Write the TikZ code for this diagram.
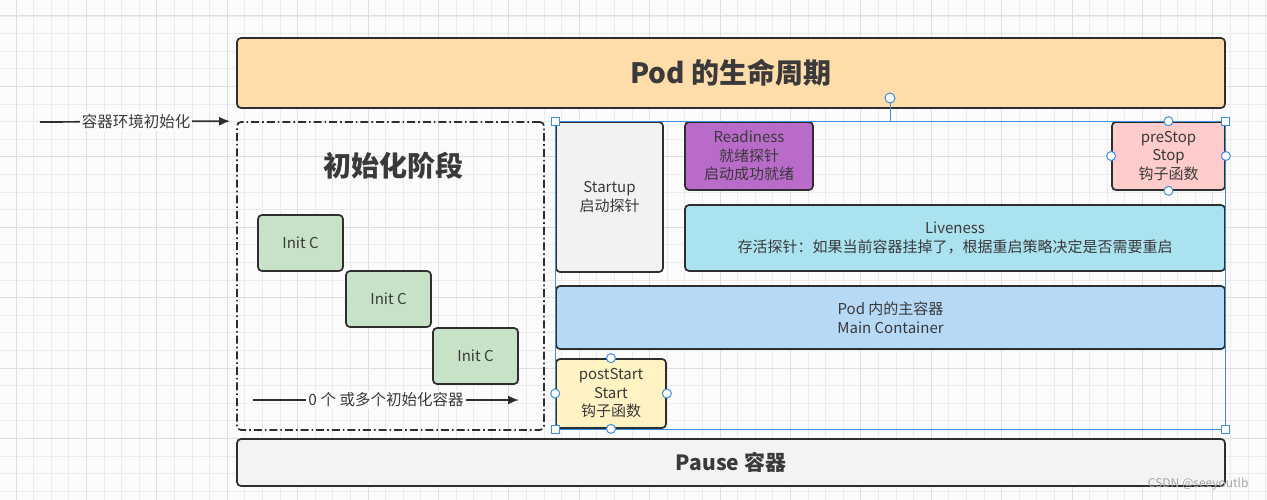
\documentclass[tikz,border=0pt]{standalone}
\usepackage{fontspec}
\setmainfont{Noto Sans CJK SC}
\usetikzlibrary{arrows.meta}

\definecolor{canvas}{HTML}{FBFBFB}
\definecolor{gridminor}{HTML}{EBEBEB}
\definecolor{gridmajor}{HTML}{DEDEDE}
\definecolor{edge}{HTML}{2E2E2E}
\definecolor{txt}{HTML}{3A3A3A}
\definecolor{podfill}{HTML}{FFDDAA}
\definecolor{initfill}{HTML}{C8E2C8}
\definecolor{startfill}{HTML}{F2F2F2}
\definecolor{readyfill}{HTML}{B96BC9}
\definecolor{stopfill}{HTML}{FFCCCC}
\definecolor{livefill}{HTML}{ABE2EF}
\definecolor{mainfill}{HTML}{B6D9F6}
\definecolor{postfill}{HTML}{FFF3C4}
\definecolor{pausefill}{HTML}{F3F3F3}
\definecolor{selblue}{HTML}{3D8EDF}

\tikzset{
  box/.style={draw=edge, line width=1.7pt, rounded corners=4pt, align=center,
    inner sep=0pt, text=txt, font=\fontsize{15}{18.5}\selectfont},
  bigtitle/.style={text=txt, font=\fontsize{28}{32}\selectfont\bfseries},
  flow/.style={draw=edge, line width=1.7pt, -{Latex[length=11pt,width=9pt]}},
  flowlabel/.style={fill=canvas, inner sep=2pt, text=txt, font=\fontsize{15.5}{18}\selectfont},
  selline/.style={draw=selblue, line width=1pt},
  selcorner/.style={draw=selblue, fill=white, line width=1pt},
}

\begin{document}
\begin{tikzpicture}[x=1pt,y=-1pt]
  \useasboundingbox[fill=canvas] (0,0) rectangle (1267,500);

  % grid
  \foreach \i in {0,...,71}
    \draw[gridminor, line width=0.8pt] (16+17.6*\i,0) -- (16+17.6*\i,500);
  \foreach \i in {0,...,28}
    \draw[gridminor, line width=0.8pt] (0,16+17.6*\i) -- (1267,16+17.6*\i);
  \foreach \i in {0,...,17}
    \draw[gridmajor, line width=1pt] (16+70.4*\i,0) -- (16+70.4*\i,500);
  \foreach \i in {0,...,6}
    \draw[gridmajor, line width=1pt] (0,16+70.4*\i) -- (1267,16+70.4*\i);

  % pod lifecycle
  \node[box, fill=podfill, minimum width=988pt, minimum height=70pt,
        font=\fontsize{28}{32}\selectfont\bfseries] (pod) at (731,73) {Pod 的生命周期};

  % init phase
  \node[draw=edge, line width=1.7pt, rounded corners=4pt,
        dash pattern=on 8pt off 3pt on 1.6pt off 3pt,
        minimum width=307pt, minimum height=308pt] (initphase) at (390.5,276) {};
  \node[bigtitle] (inittitle) at (393,166) {初始化阶段};
  \node[box, fill=initfill, minimum width=85pt, minimum height=56pt] (initA) at (300.5,243) {Init C};
  \node[box, fill=initfill, minimum width=85pt, minimum height=56pt] (initB) at (388.5,299) {Init C};
  \node[box, fill=initfill, minimum width=85pt, minimum height=56pt] (initC) at (475.5,356) {Init C};

  \coordinate (envin) at (40,122);
  \draw[flow, shorten >=6pt] (envin) -- (initphase.north west)
    node[flowlabel, pos=0.49] (envlabel) {容器环境初始化};
  \coordinate (countin) at (253,400);
  \coordinate (countout) at (519,400);
  \draw[flow] (countin) -- (countout)
    node[flowlabel, midway] (countlabel) {0 个 或多个初始化容器};

  % main container side
  \node[box, fill=startfill, minimum width=107pt, minimum height=150pt] (startup) at (609.5,197) {Startup\\启动探针};
  \node[box, fill=readyfill, minimum width=128pt, minimum height=68pt] (ready) at (749,156) {Readiness\\就绪探针\\启动成功就绪};
  \node[box, fill=stopfill, minimum width=113pt, minimum height=68pt] (prestop) at (1168.5,156) {preStop\\Stop\\钩子函数};
  \node[box, fill=livefill, minimum width=540pt, minimum height=66pt] (live) at (955,238) {Liveness\\存活探针：如果当前容器挂掉了，根据重启策略决定是否需要重启};
  \node[box, fill=mainfill, minimum width=669pt, minimum height=63pt] (main) at (890.5,317.5) {Pod 内的主容器\\Main Container};
  \node[box, fill=postfill, minimum width=110pt, minimum height=69pt] (poststart) at (611,393.5) {postStart\\Start\\钩子函数};

  % pause
  \node[box, fill=pausefill, minimum width=988pt, minimum height=47pt,
        font=\fontsize{21}{25}\selectfont\bfseries] (pause) at (731,462.5) {Pause 容器};

  % selection overlay
  \draw[selline] (555,122) rectangle (1225,429);
  \draw[selline] (890,98) -- (890,122);
  \draw[selcorner] (890,98) circle (5pt);
  \foreach \p in {(555,122),(1225,122),(555,429),(1225,429)}
    \draw[selcorner] \p ++(-4,-4) rectangle ++(8,8);
  \foreach \a in {north,south,east,west} {
    \draw[selcorner] (prestop.\a) circle (4.5pt);
    \draw[selcorner] (poststart.\a) circle (4.5pt);
  }

  \node[text=gray!70, font=\fontsize{12}{14}\selectfont, anchor=east] (mark) at (1252,484) {CSDN @seeyoutlb};
\end{tikzpicture}
\end{document}
